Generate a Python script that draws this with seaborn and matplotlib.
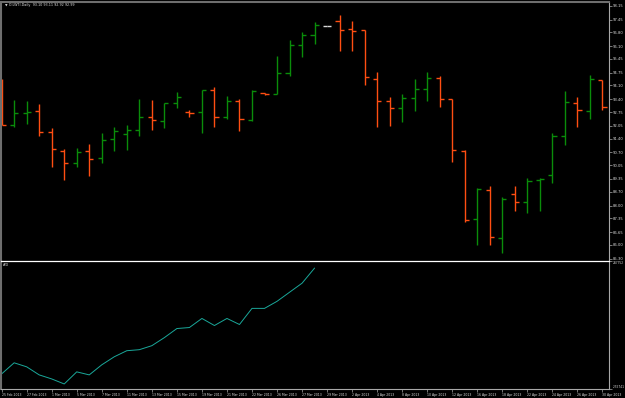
"""Daily OHLC bars for OILWTI with the A/D indicator pane, terminal style."""

import matplotlib

matplotlib.use("Agg")

import matplotlib.pyplot as plt
import numpy as np
import pandas as pd
import seaborn as sns


OPEN = [94.20, 92.09, 92.68, 92.80, 91.73, 90.77, 90.14, 90.77, 90.40, 91.36,
        91.63, 91.82, 92.48, 92.31, 93.19, 92.73, 92.73, 93.85, 92.48, 93.32,
        92.33, 93.70, 93.68, 94.75, 96.14, 96.65, 97.13, 97.37, 96.95, 96.90,
        94.44, 93.29, 92.94, 93.45, 93.94, 94.46, 93.43, 90.78, 87.30, 88.77,
        86.33, 88.59, 88.19, 89.30, 89.54, 91.52, 93.19, 92.80, 94.36]
HIGH = [94.41, 93.36, 93.32, 93.16, 91.94, 90.86, 90.91, 91.12, 91.67, 92.00,
        92.09, 93.41, 93.36, 93.22, 93.78, 92.85, 93.87, 94.01, 93.56, 93.41,
        93.87, 93.72, 95.60, 96.41, 96.80, 97.31, 97.13, 97.68, 97.37, 96.90,
        94.77, 93.50, 93.68, 94.43, 94.76, 94.58, 93.43, 90.82, 88.87, 88.99,
        88.43, 88.99, 89.41, 89.38, 91.67, 93.82, 93.53, 94.63, 94.36]
LOW = [92.09, 91.97, 92.14, 91.53, 89.97, 89.30, 89.97, 89.50, 90.14, 90.78,
       90.82, 91.55, 91.84, 91.95, 92.94, 92.51, 91.70, 91.97, 92.38, 91.79,
       92.29, 93.63, 93.65, 94.59, 95.53, 96.21, 97.13, 95.86, 95.86, 94.12,
       91.99, 92.04, 92.24, 92.80, 93.32, 93.00, 90.23, 87.15, 85.99, 85.99,
       85.57, 87.74, 87.62, 87.74, 89.16, 91.07, 92.00, 92.39, 92.84]
CLOSE = [92.09, 92.72, 92.77, 91.75, 90.87, 90.14, 90.70, 90.38, 91.31, 91.79,
         91.82, 92.48, 92.33, 93.19, 93.50, 92.72, 93.85, 92.48, 93.29, 92.38,
         93.80, 93.65, 94.72, 96.14, 96.65, 97.16, 97.13, 96.92, 96.87, 94.51,
         93.32, 92.97, 93.45, 93.93, 94.46, 93.43, 90.81, 87.25, 88.82, 86.39,
         88.32, 88.16, 89.23, 89.35, 91.55, 93.24, 92.85, 94.41, 92.99]

# accumulation/distribution, only drawn up to the 29 Mar bar
AD_VALUES = [-196300, -152700, -168500, -200200, -216100, -235900, -188300,
             -200200, -160600, -128900, -105100, -101100, -85300, -53600,
             -17900, -13900, 21800, -6000, 21800, -2000, 61400, 61400,
             89200, 124900, 160500, 220000]

DATE_LABELS = ["25 Feb 2013", "27 Feb 2013", "1 Mar 2013", "5 Mar 2013",
               "7 Mar 2013", "11 Mar 2013", "13 Mar 2013", "15 Mar 2013",
               "19 Mar 2013", "21 Mar 2013", "22 Mar 2013", "26 Mar 2013",
               "27 Mar 2013", "29 Mar 2013", "2 Apr 2013", "4 Apr 2013",
               "8 Apr 2013", "10 Apr 2013", "12 Apr 2013", "16 Apr 2013",
               "18 Apr 2013", "22 Apr 2013", "24 Apr 2013", "26 Apr 2013",
               "30 Apr 2013"]

PRICE_TICKS = [98.15, 97.45, 96.80, 96.10, 95.45, 94.75, 94.10, 93.40, 92.75,
               92.05, 91.40, 90.70, 90.05, 89.35, 88.70, 88.00, 87.35, 86.65,
               86.00, 85.30]
AD_TICKS = [-255741, 247752]

TITLE = "\u25bc OILWTI,Daily  93.10 93.11 92.92 92.99"

UP_COLOR = "#0a8c0a"
DOWN_COLOR = "#ff4e12"
FLAT_COLOR = "#d8d8d8"
AD_COLOR = "#1aa89a"
TEXT_COLOR = "#dcdcdc"
AXIS_GREY = "#a8a8a8"
FRAME_GREY = "#6e6e6e"


def setup_style() -> None:
    sns.set_theme(style="ticks")
    plt.rcParams.update(
        {
            "figure.facecolor": "black",
            "axes.facecolor": "black",
            "font.family": ["DejaVu Sans"],
        }
    )


def style_axes(ax: plt.Axes) -> None:
    ax.set_xlim(-0.08, 48.52)
    ax.yaxis.set_ticks_position("right")
    ax.tick_params(axis="y", length=2, width=0.5, color=AXIS_GREY,
                   labelcolor=TEXT_COLOR, labelsize=2.7, pad=1)
    ax.spines["left"].set_color(FRAME_GREY)
    ax.spines["left"].set_linewidth(1.5)
    ax.spines["right"].set_color(AXIS_GREY)
    ax.spines["right"].set_linewidth(0.8)
    ax.set_xlabel("")
    ax.set_ylabel("")


def draw_price_pane(ax: plt.Axes, bars: pd.DataFrame) -> None:
    colors = np.where(bars["close"] > bars["open"], UP_COLOR,
                      np.where(bars["close"] < bars["open"], DOWN_COLOR, FLAT_COLOR))
    tick = 0.33
    ax.vlines(bars["idx"], bars["low"], bars["high"], colors=colors, linewidth=1.0)
    ax.hlines(bars["open"], bars["idx"] - tick, bars["idx"], colors=colors, linewidth=1.0)
    ax.hlines(bars["close"], bars["idx"], bars["idx"] + tick, colors=colors, linewidth=1.0)

    style_axes(ax)
    ax.set_ylim(85.23, 98.34)
    ax.set_yticks(PRICE_TICKS)
    ax.set_yticklabels([f"{value:.2f}" for value in PRICE_TICKS])
    ax.set_xticks([])
    ax.spines["top"].set_color(FRAME_GREY)
    ax.spines["top"].set_linewidth(1.5)
    ax.spines["bottom"].set_visible(False)


def draw_ad_pane(ax: plt.Axes) -> None:
    ad_frame = pd.DataFrame({"idx": np.arange(len(AD_VALUES)), "ad": AD_VALUES})
    sns.lineplot(data=ad_frame, x="idx", y="ad", color=AD_COLOR, linewidth=0.7, ax=ax)

    style_axes(ax)
    ax.set_ylim(AD_TICKS[0], AD_TICKS[1])
    ax.set_yticks(AD_TICKS)
    ax.set_yticklabels([str(value) for value in AD_TICKS])
    ax.tick_params(axis="y", labelsize=2.1, pad=0.6)
    labels = ax.get_yticklabels()
    labels[0].set_verticalalignment("bottom")
    labels[1].set_verticalalignment("top")

    ax.set_xticks(range(0, 49, 2))
    ax.set_xticklabels(DATE_LABELS, ha="left")
    ax.tick_params(axis="x", length=2, width=0.5, color=AXIS_GREY,
                   labelcolor=TEXT_COLOR, labelsize=2.25, pad=1)
    ax.spines["top"].set_color("white")
    ax.spines["top"].set_linewidth(0.9)
    ax.spines["bottom"].set_color(AXIS_GREY)
    ax.spines["bottom"].set_linewidth(0.8)
    ax.text(0.004, 0.985, "A/D", transform=ax.transAxes, va="top", ha="left",
            fontsize=2.5, color=TEXT_COLOR)


def main() -> None:
    setup_style()
    bars = pd.DataFrame(
        {"idx": np.arange(len(OPEN)), "open": OPEN, "high": HIGH, "low": LOW, "close": CLOSE}
    )

    fig = plt.figure(figsize=(6.25, 3.98), dpi=100)
    ax_price = fig.add_axes([0.001, 0.3467, 0.9734, 0.6482])
    ax_ad = fig.add_axes([0.001, 0.0226, 0.9734, 0.3216])

    draw_price_pane(ax_price, bars)
    draw_ad_pane(ax_ad)

    fig.text(0.008, 0.992, TITLE, va="top", ha="left", fontsize=2.4, color=TEXT_COLOR)
    fig.savefig("out.png", dpi=100, facecolor="black")


if __name__ == "__main__":
    main()
